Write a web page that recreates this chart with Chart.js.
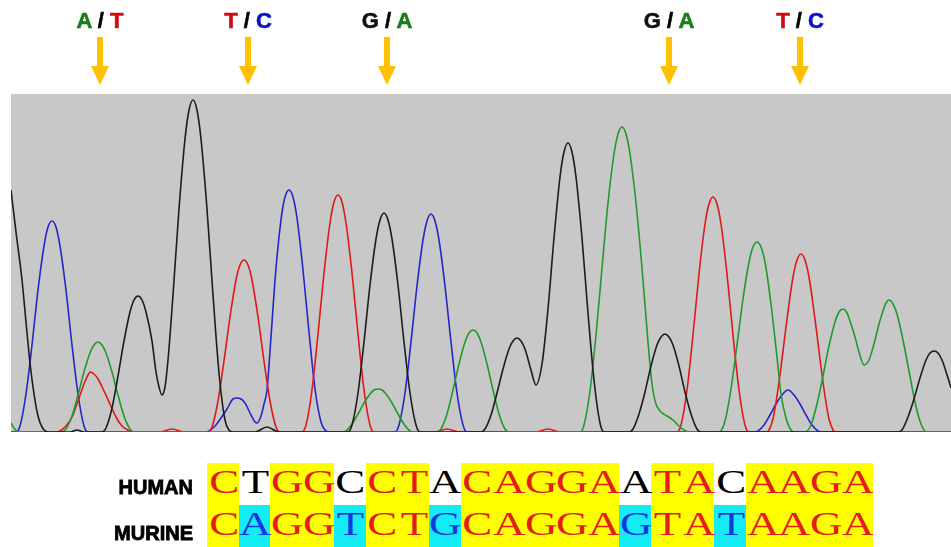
<!DOCTYPE html>
<html>
<head>
<meta charset="utf-8">
<script src="https://cdn.jsdelivr.net/npm/chart.js@4.4.1/dist/chart.umd.min.js"></script>
<style>
  html, body { margin: 0; padding: 0; background: #fff; }
  #wrap { position: relative; width: 951px; height: 547px; overflow: hidden;
          font-family: "Liberation Sans", Arial, sans-serif; }
  #trace { position: absolute; left: 0; top: 0; }
  .call { position: absolute; top: 10px; font-size: 22px; line-height: 22px; font-weight: bold;
          white-space: pre; transform: translateX(-50%); -webkit-text-stroke: 0.6px; }
  .rowlabel { position: absolute; left: 0; width: 193px; text-align: right; font-size: 20px;
              line-height: 20px; font-weight: bold; color: #000; -webkit-text-stroke: 0.8px #000; }
  .seq { position: absolute; left: 207px; width: 666px; height: 42px; overflow: hidden;
         display: flex; }
  .seq span { flex: 0 0 31.7143px; height: 42px; line-height: 38px; text-align: center;
              font-family: "Liberation Serif", "DejaVu Serif", serif; font-size: 34px; }
  .seq span i { display: inline-block; font-style: normal; transform: translateX(1px) scaleX(1.32); }
</style>
</head>
<body>
<div id="wrap">
  <canvas id="trace" width="951" height="547"></canvas>
</div>
<script>
// Fluorescence traces, one per dye channel: [scan, signal]
const traceG = [
  [11,242],[16,200],[22,152],[26,110],[30,69],[34,38],[38,16],[42,5],[48,0],
  [70,0],[77,2],[84,0],
  [102,0],[106,4],[112,24],[118,56],[124,91],[130,120],[134,132],[138,136],[142,132],[146,120],
  [152,91],[156,60],[159,45],[162,37],[165,45],[168,72],[173,137],[179,223],[185,293],[189,322],
  [193,332],[197,322],[201,293],[207,223],[213,137],[219,59],[225,12],[229,2],[233,0],
  [255,0],[267,5],[279,0],
  [348,0],[352,7],[358,39],[364,90],[370,147],[376,193],[380,212],[384,219],[388,212],[392,193],
  [398,147],[404,90],[410,39],[416,7],[420,0],
  [481,0],[485,3],[491,17],[497,39],[503,63],[509,83],[513,91],[517,94],[521,91],[525,83],[531,62],
  [536,47],[542,68],[548,123],[554,194],[560,255],[564,280],[568,289],[572,280],[576,255],[582,194],
  [588,119],[594,52],[600,9],[604,0],
  [629,0],[633,3],[639,18],[645,40],[651,66],[657,87],[661,95],[665,98],[669,95],[673,87],[679,66],
  [685,40],[691,18],[697,3],[701,0],
  [898,0],[902,2],[908,15],[914,33],[920,54],[926,72],[930,79],[934,81],[938,79],[942,72],[948,54],
  [951,44]
];
const traceA = [
  [11,9],[14,4],[18,0],
  [62,0],[66,3],[72,16],[78,37],[84,60],[90,79],[94,87],[98,90],[102,87],[106,79],[112,60],[118,37],
  [124,16],[130,3],[134,0],
  [342,0],[346,1],[352,8],[358,18],[364,29],[370,38],[374,42],[378,43],[382,42],[386,38],[392,29],
  [398,18],[404,8],[410,1],[414,0],
  [437,0],[441,3],[447,18],[453,42],[459,68],[465,90],[469,99],[473,102],[477,99],[481,90],[487,68],
  [493,42],[499,18],[505,3],[509,0],
  [580,0],[584,7],[590,41],[596,97],[602,164],[608,229],[614,278],[618,298],[622,305],[626,298],
  [630,278],[636,229],[642,164],[648,90],[652,48],[656,28],[661,20],[667,16],[673,12],[679,6],
  [684,2],[689,0],
  [719,0],[725,11],[731,43],[737,87],[743,133],[749,170],[753,185],[757,190],[761,185],[765,170],
  [771,128],[777,75],[781,38],[786,14],[791,2],[795,0],
  [805,0],[811,7],[817,28],[823,56],[829,86],[835,110],[839,120],[843,123],[847,119],[851,108],
  [855,95],[859,80],[864,67],[869,72],[874,88],[879,108],[883,121],[886,129],[889,132],[893,128],
  [897,118],[903,92],[909,61],[915,30],[921,8],[927,0],[951,0]
];
const traceT = [
  [11,0],[55,0],[60,1],[66,6],[72,15],[78,31],[84,48],[88,57],[90,60],[94,58],[98,53],[104,41],
  [110,28],[116,15],[122,6],[128,2],[134,0],
  [160,0],[172,3],[184,0],
  [208,0],[212,5],[218,31],[224,71],[230,115],[236,152],[240,167],[244,172],[248,167],[252,152],
  [258,115],[264,71],[270,31],[276,5],[280,0],
  [302,0],[306,7],[312,42],[318,98],[324,159],[330,209],[334,230],[338,237],[342,230],[346,209],
  [352,159],[358,98],[364,42],[370,7],[374,0],
  [435,0],[447,3],[459,0],
  [536,0],[548,3],[560,0],
  [677,0],[681,7],[687,42],[693,97],[699,158],[705,208],[709,228],[713,235],[717,228],[721,208],
  [727,158],[733,97],[739,42],[745,7],[749,0],
  [767,0],[769,2],[773,13],[777,36],[781,65],[785,97],[789,128],[793,155],[797,172],[801,178],
  [805,172],[809,155],[813,128],[817,97],[821,65],[825,36],[829,13],[833,2],[835,0],
  [951,0]
];
const traceC = [
  [11,0],[16,0],[20,6],[26,38],[32,87],[38,142],[44,186],[48,205],[52,211],[56,205],[60,186],
  [66,142],[72,87],[78,38],[84,6],[88,0],
  [205,0],[209,1],[215,6],[221,14],[227,23],[233,33],[237,34],[241,33],[245,29],[251,17],[255,10],
  [257,9],[261,16],[264,28],[267,42],[271,95],[275,152],[279,195],[283,226],[286,238],[289,242],
  [293,235],[297,214],[303,162],[309,100],[315,43],[321,10],[325,2],[329,0],
  [395,0],[399,7],[405,39],[411,90],[417,146],[423,192],[427,211],[431,218],[435,211],[439,192],
  [445,146],[451,90],[457,39],[463,7],[467,0],
  [754,0],[758,1],[764,7],[770,17],[776,28],[782,37],[788,42],[794,37],[800,28],[806,17],[812,7],
  [818,1],[822,0],
  [951,0]
];

// Heterozygous positions and the two bases called at each
const callScans = [100, 248, 387, 669, 800];
const callFirst  = ['A', 'T', 'G', 'G', 'T'];
const callSecond = ['T', 'C', 'A', 'A', 'C'];

// Aligned reference sequences
const seqLabels = ['HUMAN', 'MURINE'];
const humanSeq  = ['C','T','G','G','C','C','T','A','C','A','G','G','A','A','T','A','C','A','A','G','A'];
const murineSeq = ['C','A','G','G','T','C','T','G','C','A','G','G','A','G','T','A','T','A','A','G','A'];

const baseColor = { A: '#18801c', C: '#0b14c8', G: '#111111', T: '#d00c0c' };
const traceColor = { G: '#1c1c1c', A: '#1f9a2c', T: '#e01818', C: '#2626c8' };

const wrap = document.getElementById('wrap');

const panel = {
  id: 'panel',
  beforeDraw(chart) {
    const { ctx, chartArea: a } = chart;
    ctx.save();
    ctx.fillStyle = '#c8c8c8';
    ctx.fillRect(a.left, a.top, a.right - a.left, a.bottom - a.top);
    ctx.restore();
  },
  afterDraw(chart) {
    const { ctx } = chart;
    const xs = chart.scales.x;
    ctx.save();
    ctx.fillStyle = '#ffc000';
    callScans.forEach(s => {
      const px = Math.round(xs.getPixelForValue(s));
      ctx.fillRect(px - 3, 37, 6, 30);
      ctx.beginPath();
      ctx.moveTo(px - 9, 66);
      ctx.lineTo(px + 9, 66);
      ctx.lineTo(px, 85);
      ctx.closePath();
      ctx.fill();
    });
    ctx.restore();
    placeCalls(xs);
  }
};

function placeCalls(xs) {
  wrap.querySelectorAll('.call').forEach(n => n.remove());
  callScans.forEach((s, i) => {
    const d = document.createElement('div');
    d.className = 'call';
    d.style.left = xs.getPixelForValue(s) + 'px';
    const a = document.createElement('span');
    a.style.color = baseColor[callFirst[i]];
    a.textContent = callFirst[i];
    const sl = document.createElement('span');
    sl.style.color = '#000';
    sl.textContent = ' / ';
    const b = document.createElement('span');
    b.style.color = baseColor[callSecond[i]];
    b.textContent = callSecond[i];
    d.append(a, sl, b);
    wrap.appendChild(d);
  });
}

function dataset(label, pts, color) {
  return {
    label,
    data: pts,
    borderColor: color,
    borderWidth: 1.6,
    pointRadius: 0,
    fill: false,
    cubicInterpolationMode: 'monotone',
    clip: 0
  };
}

new Chart(document.getElementById('trace'), {
  type: 'line',
  data: {
    datasets: [
      dataset('G', traceG, traceColor.G),
      dataset('A', traceA, traceColor.A),
      dataset('T', traceT, traceColor.T),
      dataset('C', traceC, traceColor.C)
    ]
  },
  options: {
    responsive: false,
    animation: false,
    layout: { padding: { left: 11, top: 94, right: 0, bottom: 115 } },
    plugins: { legend: { display: false }, tooltip: { enabled: false }, title: { display: false } },
    scales: {
      x: { type: 'linear', min: 11, max: 951, display: false },
      y: { min: 0, max: 338, display: false }
    }
  },
  plugins: [panel]
});

// Alignment rows below the trace
function buildRow(seq, other, top, varBg, varFg) {
  const row = document.createElement('div');
  row.className = 'seq';
  row.style.top = top + 'px';
  seq.forEach((b, i) => {
    const cell = document.createElement('span');
    const same = b === other[i];
    cell.style.background = same ? '#ffff00' : varBg;
    cell.style.color = same ? '#e41c1c' : varFg;
    const g = document.createElement('i');
    g.textContent = b;
    cell.appendChild(g);
    row.appendChild(cell);
  });
  wrap.appendChild(row);
}
function buildLabel(text, top) {
  const d = document.createElement('div');
  d.className = 'rowlabel';
  d.style.top = top + 'px';
  d.textContent = text;
  wrap.appendChild(d);
}
buildLabel(seqLabels[0], 477);
buildLabel(seqLabels[1], 523);
buildRow(humanSeq, murineSeq, 463, '#ffffff', '#000000');
buildRow(murineSeq, humanSeq, 505, '#14ecf5', '#1438e0');
</script>
</body>
</html>
